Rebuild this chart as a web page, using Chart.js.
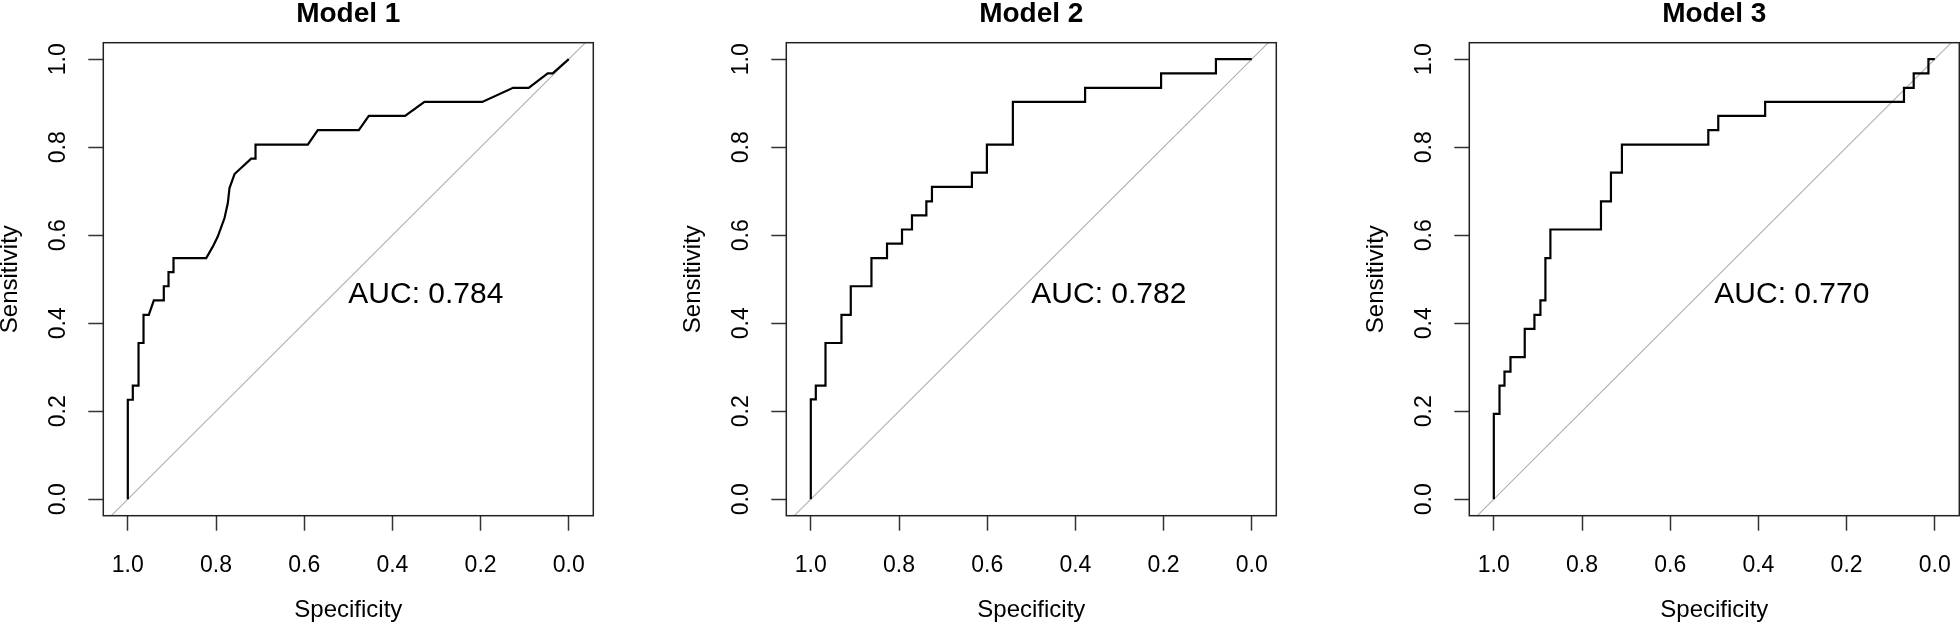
<!DOCTYPE html>
<html>
<head>
<meta charset="utf-8">
<script src="https://cdn.jsdelivr.net/npm/chart.js@4.4.1/dist/chart.umd.min.js"></script>
<style>
html,body{margin:0;padding:0;background:#fff;overflow:hidden;}
#wrap{position:relative;width:1960px;height:626px;overflow:hidden;background:#fff;}
canvas{position:absolute;top:0;}
</style>
</head>
<body>
<div id="wrap">
  <canvas id="c0" width="640" height="626" style="left:0px"></canvas>
  <canvas id="c1" width="640" height="626" style="left:683px"></canvas>
  <canvas id="c2" width="640" height="626" style="left:1366px"></canvas>
</div>
<script>
const titles=['Model 1','Model 2','Model 3'];
const aucs=[0.784,0.782,0.770];
const tickValues=[0,0.2,0.4,0.6,0.8,1.0];
// reference line, clipped by the plot box
const diagSpec=[1.2,-0.2];
const diagSens=[-0.2,1.2];

const spec1=[1,1,0.9887,0.9887,0.9757,0.9757,0.9644,0.9644,0.9524,0.941,0.9184,0.9184,0.9077,0.9077,0.8964,0.8964,0.8222,0.8073,0.796,0.7807,0.7732,0.7694,0.758,0.7202,0.7104,0.7104,0.5918,0.5692,0.4762,0.4535,0.3713,0.3273,0.1962,0.1263,0.0909,0.0478,0.0364,0];
const sens1=[0,0.226,0.226,0.258,0.258,0.355,0.355,0.419,0.419,0.452,0.452,0.484,0.484,0.516,0.516,0.548,0.548,0.574,0.597,0.639,0.673,0.707,0.739,0.774,0.774,0.806,0.806,0.839,0.839,0.871,0.871,0.903,0.903,0.935,0.935,0.968,0.968,1];

const spec2=[1,1,0.9887,0.9887,0.9667,0.9667,0.9305,0.9305,0.9094,0.9094,0.8625,0.8625,0.8272,0.8272,0.7932,0.7932,0.7706,0.7706,0.738,0.738,0.7253,0.7253,0.6347,0.6347,0.6007,0.6007,0.5418,0.5418,0.378,0.378,0.2057,0.2057,0.0813,0.0813,0];
const sens2=[0,0.227,0.227,0.258,0.258,0.355,0.355,0.419,0.419,0.484,0.484,0.548,0.548,0.581,0.581,0.613,0.613,0.645,0.645,0.677,0.677,0.71,0.71,0.742,0.742,0.806,0.806,0.903,0.903,0.935,0.935,0.968,0.968,1,1];

const spec3=[1,1,0.9871,0.9871,0.9758,0.9758,0.9622,0.9622,0.9299,0.9299,0.9079,0.9079,0.8943,0.8943,0.883,0.883,0.8717,0.8717,0.757,0.757,0.7344,0.7344,0.7095,0.7095,0.5136,0.5136,0.491,0.491,0.3847,0.3847,0.0699,0.0699,0.0478,0.0478,0.0144,0.0144,0];
const sens3=[0,0.194,0.194,0.258,0.258,0.29,0.29,0.323,0.323,0.387,0.387,0.419,0.419,0.452,0.452,0.548,0.548,0.613,0.613,0.677,0.677,0.742,0.742,0.806,0.806,0.839,0.839,0.871,0.871,0.903,0.903,0.935,0.935,0.968,0.968,1,1];

const specs=[spec1,spec2,spec3];
const senss=[sens1,sens2,sens3];

Chart.defaults.font.family='"Liberation Sans", Arial, Helvetica, sans-serif';
Chart.defaults.color='#000';

function pts(xs,ys){
  return xs.map((x,i)=>({x:x,y:ys[i]}));
}

// full box round the plot and the AUC note
const boxAndAuc={
  id:'boxAndAuc',
  afterDatasetsDraw(chart,args,opts){
    const {ctx,chartArea:a,scales}=chart;
    ctx.save();
    ctx.strokeStyle='#222';
    ctx.lineWidth=1.5;
    ctx.strokeRect(a.left,a.top,a.right-a.left,a.bottom-a.top);
    ctx.fillStyle='#000';
    ctx.font='30px "Liberation Sans", Arial, sans-serif';
    ctx.textAlign='left';
    ctx.textBaseline='alphabetic';
    const x=scales.x.getPixelForValue(0.5);
    const y=scales.y.getPixelForValue(0.5);
    ctx.fillText('AUC: '+opts.auc.toFixed(3),x,y+24);
    ctx.restore();
  }
};

const tickGrid={drawOnChartArea:false,tickLength:15,tickColor:'#333',tickWidth:1.5};
const setTicks=s=>{s.ticks=tickValues.map(v=>({value:v}));};

for(let i=0;i<3;i++){
  const ctx=document.getElementById('c'+i).getContext('2d');
  new Chart(ctx,{
    type:'scatter',
    data:{
      datasets:[
        {data:pts(specs[i],senss[i]),showLine:true,borderColor:'#000',borderWidth:2.2,pointRadius:0,tension:0},
        {data:pts(diagSpec,diagSens),showLine:true,borderColor:'#b0b0b0',borderWidth:1.1,pointRadius:0}
      ]
    },
    options:{
      responsive:false,
      animation:false,
      events:[],
      layout:{autoPadding:false,padding:{left:0,right:46.7,top:0,bottom:0}},
      plugins:{
        legend:{display:false},
        tooltip:{enabled:false},
        title:{display:true,text:titles[i],fullSize:false,color:'#000',
          font:{size:28,weight:'bold',lineHeight:1},padding:{top:0,bottom:14.7}},
        boxAndAuc:{auc:aucs[i]}
      },
      scales:{
        x:{
          type:'linear',reverse:true,min:-0.0556,max:1.0556,
          afterBuildTicks:setTicks,
          afterFit:s=>{s.height=110.3;s.paddingLeft=0;s.paddingRight=0;},
          grid:tickGrid,
          border:{display:false},
          ticks:{color:'#000',padding:23,maxRotation:0,font:{size:23,lineHeight:1},callback:v=>v.toFixed(1)},
          title:{display:true,text:'Specificity',color:'#000',font:{size:24,lineHeight:1},padding:{top:0,bottom:4}}
        },
        y:{
          type:'linear',min:-0.0375,max:1.0375,
          afterBuildTicks:setTicks,
          afterFit:s=>{s.width=103.3;s.paddingTop=0;s.paddingBottom=0;},
          grid:tickGrid,
          border:{display:false},
          ticks:{color:'#000',padding:14,minRotation:90,maxRotation:90,crossAlign:'center',
            font:{size:23,lineHeight:1},callback:v=>v.toFixed(1)},
          title:{display:true,text:'Sensitivity',color:'#000',font:{size:24,lineHeight:0.875},padding:0}
        }
      }
    },
    plugins:[boxAndAuc]
  });
}
</script>
</body>
</html>
